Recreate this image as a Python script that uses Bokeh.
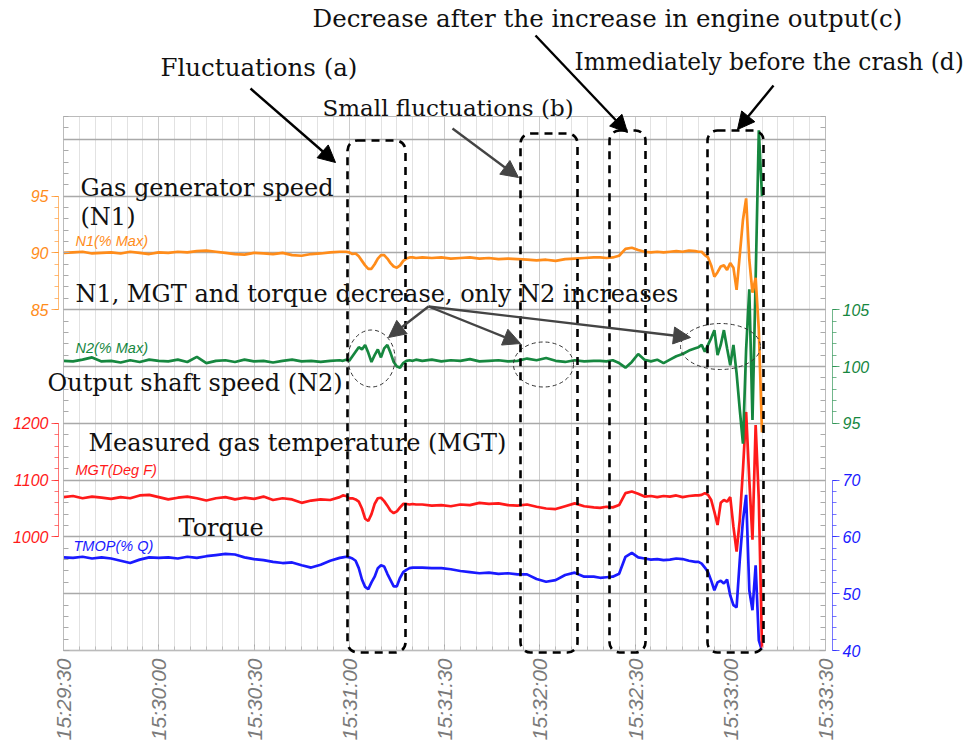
import math
from bokeh.plotting import figure
from bokeh.models import (Range1d, LinearAxis, FixedTicker, SingleIntervalTicker, Grid,
                          Label, Arrow, NormalHead, BoxAnnotation, ColumnDataSource)
from bokeh.embed import file_html
from bokeh.resources import INLINE

# ---------------- data (seconds after 15:29:30) ----------------
time_s = [0, 3, 6, 9, 12, 15, 18, 21, 24, 27, 30, 33, 36, 39, 42, 45, 48, 51, 54, 57,
          60, 63, 66, 69, 72, 75, 78, 81, 84, 87,
          88, 89, 90, 91, 92, 93, 94, 95, 96, 97, 98, 99, 100, 101, 102, 103, 104, 105,
          106, 107, 108, 109, 110, 111,
          113, 116, 119, 122, 125, 128, 131, 134, 137, 140, 143, 146, 149, 152, 155, 158,
          161, 164, 167,
          169, 171, 173, 175, 177, 179, 181, 183, 185, 187, 189, 191, 193, 195, 197, 199,
          200, 201, 202, 203, 204, 205, 206, 207, 208, 209, 210, 211, 212, 213, 214, 215,
          216, 217, 218, 219, 220]

n1_pct = [90.0, 90.05, 90.1, 89.95, 90.0, 90.05, 89.95, 90.1, 90.0, 89.9, 90.05, 90.0, 90.1,
          90.05, 90.15, 90.2, 90.1, 90.0, 89.9, 89.85, 90.0, 89.95, 89.9, 90.0, 89.8, 89.75,
          89.9, 89.95, 90.05, 90.1,
          90.1, 90.1, 90.05, 89.9, 89.95, 89.7, 89.3, 88.9, 88.6, 88.6, 89.0, 89.5, 89.8,
          89.8, 89.5, 89.1, 88.8, 88.7, 88.9, 89.3, 89.5, 89.6, 89.6, 89.55,
          89.6, 89.55, 89.6, 89.5, 89.55, 89.6, 89.5, 89.55, 89.45, 89.5, 89.45, 89.4, 89.35,
          89.4, 89.3, 89.45, 89.5, 89.55, 89.6,
          89.6, 89.55, 89.6, 89.75, 90.35, 90.45, 90.25, 90.1, 90.05, 90.1, 90.05, 90.1,
          90.15, 90.1, 90.2, 90.15,
          90.1, 90.1, 89.8, 89.6, 88.9, 87.9, 88.3, 88.8, 88.9, 88.5, 89.1, 88.7, 86.75,
          89.8, 92.9, 94.8, 89.4, 86.5, 87.8, 83.2, 74.2]

n2_pct = [100.5, 100.45, 100.6, 100.8, 100.45, 100.5, 100.35, 100.55, 100.4, 100.6, 100.5,
          100.45, 100.6, 100.4, 100.85, 100.3, 100.5, 100.55, 100.4, 100.6, 100.45, 100.5,
          100.35, 100.5, 100.6, 100.45, 100.5, 100.4, 100.5, 100.55,
          100.5, 100.6, 100.5, 100.9, 101.3, 101.7, 101.5, 101.9, 101.2, 100.4, 101.0, 101.5,
          100.8, 101.6, 101.9, 101.2, 100.4, 100.0, 99.9, 100.3, 100.5, 100.55, 100.5, 100.6,
          100.5, 100.6, 100.45, 100.55, 100.5, 100.65, 100.45, 100.5, 100.55, 100.45, 100.5,
          100.7, 100.55, 100.75, 100.5, 100.4, 100.55, 100.45, 100.5,
          100.5, 100.45, 100.55, 100.3, 99.9, 100.4, 101.1, 100.6, 100.45, 100.6, 100.3,
          100.6, 100.9, 101.1, 101.4, 101.6,
          101.7, 101.9, 101.3, 101.9, 102.5, 103.2, 101.0, 101.9, 103.2, 101.6, 100.1, 101.9,
          99.4, 96.2, 93.2, 101.5, 106.8, 95.3, 107.7, 120.8, 115.0]

mgt_degf = [1070, 1072, 1068, 1071, 1069, 1067, 1070, 1068, 1073, 1074, 1070, 1066, 1069, 1071,
            1068, 1064, 1068, 1070, 1066, 1069, 1067, 1071, 1065, 1068, 1066, 1060, 1064, 1066,
            1065, 1070,
            1073, 1072, 1068, 1068, 1066, 1062, 1050, 1032, 1028, 1040, 1058, 1068, 1069, 1063,
            1055, 1046, 1042, 1045, 1052, 1058, 1058, 1057, 1058, 1057,
            1057, 1055, 1056, 1054, 1057, 1056, 1060, 1058, 1059, 1056, 1055, 1057, 1053, 1050,
            1049, 1054, 1059, 1054, 1052,
            1051, 1053, 1052, 1056, 1077, 1080, 1076, 1071, 1072, 1070, 1072, 1071, 1073, 1070,
            1072, 1073,
            1073, 1074, 1077, 1074, 1065, 1044, 1021, 1060, 1065, 1062, 1070, 1018, 974, 1030,
            1118, 1220, 1100, 995, 1197, 1065, 805]

tmop_pctq = [56.4, 56.3, 56.5, 56.2, 56.4, 56.2, 55.8, 55.4, 56.0, 56.4, 56.3, 56.4, 56.2, 56.5,
             56.3, 56.6, 56.8, 57.0, 56.9, 56.4, 56.1, 55.9, 55.6, 55.4, 55.5, 55.0, 54.6, 55.1,
             55.8, 56.3,
             56.4, 56.5, 56.4, 56.2, 55.8, 54.5, 52.5, 51.2, 50.8, 52.0, 53.0, 54.5, 55.0, 54.8,
             53.5, 52.4, 51.3, 51.3, 52.8, 53.8, 54.2, 54.5, 54.6, 54.6,
             54.6, 54.5, 54.5, 54.3, 54.0, 53.8, 53.6, 53.7, 53.5, 53.6, 53.4, 53.4, 52.6, 52.1,
             52.4, 53.3, 53.7, 53.0, 53.0,
             52.8, 52.9, 53.0, 53.5, 56.5, 57.2, 56.4, 56.2, 56.0, 56.1, 55.9, 56.0, 56.2, 56.1,
             55.8, 55.6,
             55.6, 55.3, 54.6, 53.8, 52.3, 50.6, 52.0, 52.3, 51.8, 52.5, 49.7, 48.0, 47.6, 55.9,
             62.9, 67.4, 50.6, 47.1, 55.0, 41.8, 40.0]

tick_seconds = [0, 30, 60, 90, 120, 150, 180, 210, 240]
tick_labels = ["15:29:30", "15:30:00", "15:30:30", "15:31:00", "15:31:30",
               "15:32:00", "15:32:30", "15:33:00", "15:33:30"]

# ---------------- colours / fonts ----------------
C_N1 = "#ff8c1a"
C_N2 = "#16873f"
C_MGT = "#ff1a1a"
C_TQ = "#1a1aff"
SERIF = "DejaVu Serif"
SANS = "Liberation Sans"

W, H = 975, 745
X0_PX, PX_PER_S = 63, 3.175      # x pixel of 15:29:30, pixels per second
Y0_PX, PX_PER_G = 650, 56.8      # y pixel of plot bottom, pixels per grid band
T_END = 240
GRID_TOP = (Y0_PX - 116) / PX_PER_G   # top of plotting area in grid bands

X_LO, X_HI = -X0_PX / PX_PER_S, (W - X0_PX) / PX_PER_S
Y_LO, Y_HI = (Y0_PX - H) / PX_PER_G, Y0_PX / PX_PER_G


def pos(X, Y):
    """picture position -> primary data coordinates"""
    return (X - X0_PX) / PX_PER_S, (Y0_PX - Y) / PX_PER_G


def band_range(base, base_grid, per_grid):
    return Range1d(base + (Y_LO - base_grid) * per_grid, base + (Y_HI - base_grid) * per_grid)


p = figure(width=W, height=H, output_backend="svg", toolbar_location=None,
           x_range=Range1d(X_LO, X_HI), y_range=Range1d(Y_LO, Y_HI),
           x_axis_location=None, y_axis_location=None, min_border=0,
           background_fill_color="white", border_fill_color="white")
p.outline_line_color = None
p.grid.visible = False

p.extra_y_ranges = {
    "n1": band_range(85, 6, 5),
    "n2": band_range(95, 4, 5),
    "mgt": band_range(1000, 2, 100),
    "tq": band_range(40, 0, 10),
}

x_ticker = FixedTicker(ticks=tick_seconds, minor_ticks=list(range(0, T_END + 1, 5)))
y_ticker = SingleIntervalTicker(interval=1, num_minor_ticks=5)

# grids limited to the plotting area
p.add_layout(Grid(dimension=0, ticker=x_ticker, bounds=(0, T_END), cross_bounds=(0, GRID_TOP),
                  grid_line_color="#cccccc", minor_grid_line_color="#e2e2e2"), "center")
p.add_layout(Grid(dimension=1, ticker=y_ticker, bounds=(0, 9), cross_bounds=(0, T_END),
                  grid_line_color="#a9a9a9", grid_line_width=1.3), "center")
p.add_layout(BoxAnnotation(left=0, right=T_END, bottom=0, top=GRID_TOP, fill_alpha=0,
                           fill_color=None, line_color="#bbbbbb", line_alpha=1,
                           line_width=1, level="underlay"))

# x axis
xa = LinearAxis(ticker=x_ticker, fixed_location=0, bounds=(0, T_END),
                major_label_overrides={t: l for t, l in zip(tick_seconds, tick_labels)},
                major_label_orientation=math.pi / 2,
                major_label_text_font=SANS, major_label_text_font_style="italic",
                major_label_text_font_size="21px", major_label_text_color="#7a7a7a",
                major_label_standoff=8, axis_line_color="#bbbbbb",
                major_tick_line_color="#aaaaaa", minor_tick_line_color="#bbbbbb",
                major_tick_in=6, major_tick_out=0, minor_tick_in=4, minor_tick_out=0)
p.add_layout(xa, "below")

# frame edge axes: only inner gray ticks
for side, loc in [("left", 0), ("right", T_END)]:
    p.add_layout(LinearAxis(ticker=y_ticker, fixed_location=loc, bounds=(0, GRID_TOP),
                            major_label_text_alpha=0, major_label_text_font_size="1px",
                            axis_line_color="#bbbbbb", major_tick_line_color="#aaaaaa",
                            minor_tick_line_color="#aaaaaa", major_tick_in=6,
                            major_tick_out=0, minor_tick_in=5, minor_tick_out=0), side)


def series_axis(name, lo, hi, step, color, side, loc):
    ax = LinearAxis(y_range_name=name, bounds=(lo, hi),
                    ticker=SingleIntervalTicker(interval=step, num_minor_ticks=5),
                    fixed_location=loc,
                    axis_line_color=color, axis_line_alpha=0.6,
                    major_tick_line_color=color, major_tick_line_alpha=0.7,
                    minor_tick_line_color=color, minor_tick_line_alpha=0.6,
                    major_tick_out=7, major_tick_in=0, minor_tick_out=4, minor_tick_in=0,
                    major_label_text_color=color, major_label_text_font=SANS,
                    major_label_text_font_style="italic", major_label_text_font_size="16px",
                    major_label_standoff=3)
    p.add_layout(ax, side)


LEFT_LOC = -5 / PX_PER_S
RIGHT_LOC = T_END + 7 / PX_PER_S
series_axis("n1", 85, 95, 5, C_N1, "left", LEFT_LOC)
series_axis("mgt", 1000, 1200, 100, C_MGT, "left", LEFT_LOC)
series_axis("n2", 95, 105, 5, C_N2, "right", RIGHT_LOC)
series_axis("tq", 40, 70, 10, C_TQ, "right", RIGHT_LOC)

# ---------------- series ----------------
src = ColumnDataSource(dict(t=time_s, n1=n1_pct, n2=n2_pct, mgt=mgt_degf, tq=tmop_pctq))
p.line("t", "tq", source=src, y_range_name="tq", line_color=C_TQ, line_width=2.7)
p.line("t", "mgt", source=src, y_range_name="mgt", line_color=C_MGT, line_width=2.7)
p.line("t", "n2", source=src, y_range_name="n2", line_color=C_N2, line_width=2.7)
p.line("t", "n1", source=src, y_range_name="n1", line_color=C_N1, line_width=2.7)

# series names inside the plot
for text, color, X, Y in [("N1(% Max)", C_N1, 75, 240), ("N2(% Max)", C_N2, 75, 347),
                          ("MGT(Deg F)", C_MGT, 75, 469), ("TMOP(% Q)", C_TQ, 73, 545)]:
    x, y = pos(X, Y)
    p.add_layout(Label(x=x, y=y, text=text, text_color=color, text_font=SANS,
                       text_font_style="italic", text_font_size="14.5px",
                       text_baseline="middle", text_align="left"))

# ---------------- dashed boxes ----------------
for X0, X1, Y0 in [(347, 405, 140), (520, 577, 133), (609, 645, 130), (707, 763, 130)]:
    l, t = pos(X0, Y0)
    r, b = pos(X1, 652)
    p.add_layout(BoxAnnotation(left=l, right=r, top=t, bottom=b, fill_alpha=0,
                               fill_color=None, line_color="black", line_alpha=1,
                               line_width=2.6, line_dash="8 6", border_radius=10))

# ---------------- dashed ellipses ----------------
ex, ey, ew, eh = [], [], [], []
for X, Y, Wd, Ht in [(371, 358, 47, 57), (543, 364, 60, 45), (720, 346, 80, 46)]:
    x, y = pos(X, Y)
    ex.append(x); ey.append(y); ew.append(Wd / PX_PER_S); eh.append(Ht / PX_PER_G)
p.ellipse(x=ex, y=ey, width=ew, height=eh, fill_color=None, line_color="#333333",
          line_width=1, line_dash="4 3")

# ---------------- text annotations ----------------
for text, X, Y, size in [
    ("Decrease after the increase in engine output(c)", 312, 18, "24.5px"),
    ("Fluctuations (a)", 160, 67, "24.5px"),
    ("Immediately before the crash (d)", 574, 61, "23.3px"),
    ("Small fluctuations (b)", 322, 107, "23px"),
    ("Gas generator speed", 80, 187, "24px"),
    ("(N1)", 80, 216, "24px"),
    ("N1, MGT and torque decrease, only N2 increases", 75, 293, "24px"),
    ("Output shaft speed (N2)", 47, 382, "24px"),
    ("Measured gas temperature (MGT)", 88, 442, "24px"),
    ("Torque", 178, 527, "24px"),
]:
    x, y = pos(X, Y)
    p.add_layout(Label(x=x, y=y, text=text, text_color="#111111", text_font=SERIF,
                       text_font_size=size, text_baseline="middle", text_align="left"))

# ---------------- arrows ----------------
for (X0, Y0, X1, Y1), color in [((250, 88, 335, 162), "black"),
                                ((452, 128, 518, 177), "#444444"),
                                ((535, 35, 627, 132), "black"),
                                ((773, 85, 737, 129), "black"),
                                ((428, 306, 388, 337), "#444444"),
                                ((428, 306, 520, 343), "#444444"),
                                ((428, 306, 690, 337), "#444444")]:
    x0, y0 = pos(X0, Y0)
    x1, y1 = pos(X1, Y1)
    p.add_layout(Arrow(x_start=x0, y_start=y0, x_end=x1, y_end=y1,
                       line_color=color, line_width=2.4,
                       end=NormalHead(size=17, fill_color=color, line_color=color)))

open("out.html", "w").write(file_html(p, INLINE))
